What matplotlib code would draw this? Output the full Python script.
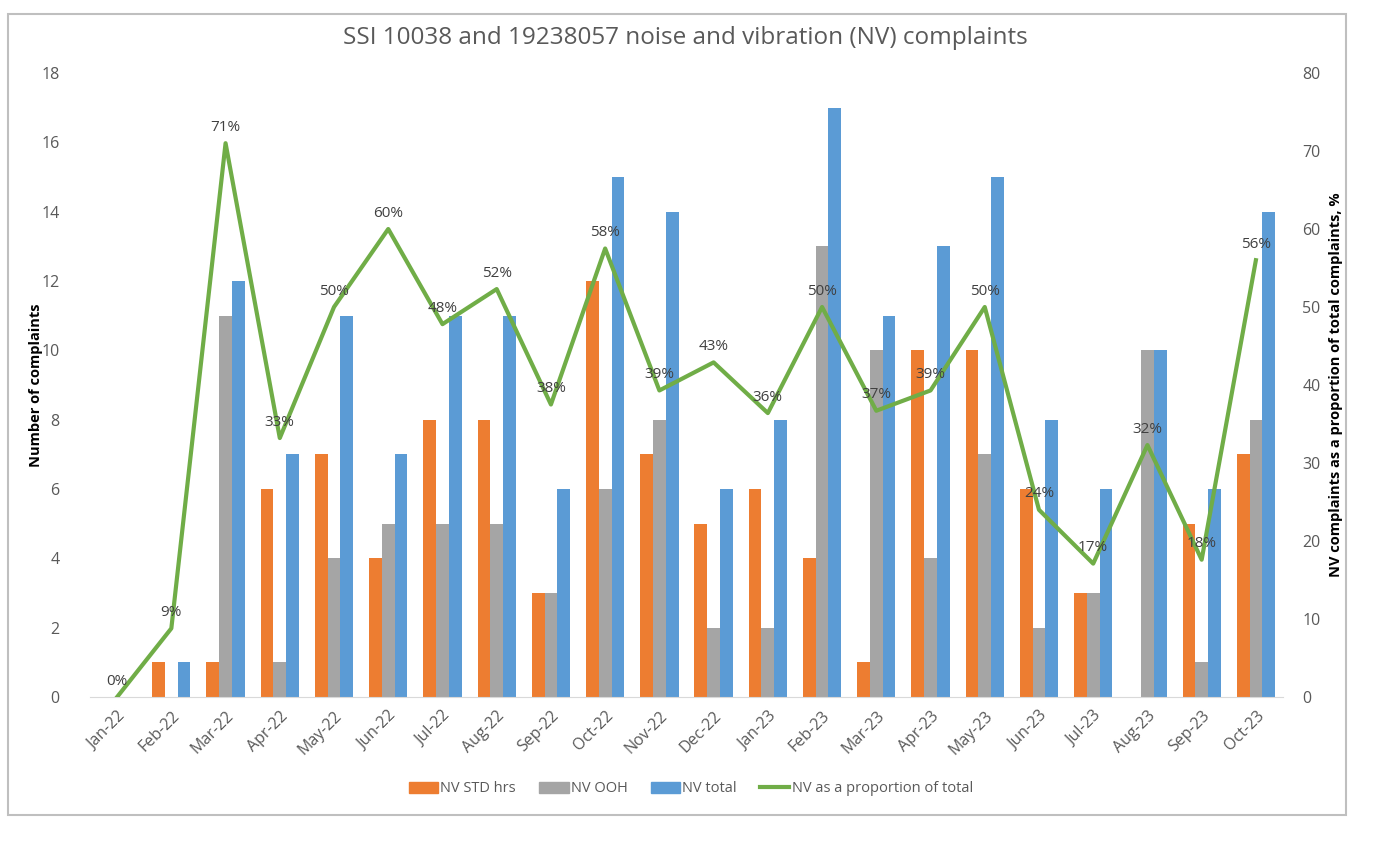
import matplotlib
matplotlib.use("Agg")
import matplotlib.pyplot as plt
import numpy as np
from matplotlib.patches import Rectangle
from matplotlib.lines import Line2D

months = ["Jan-22", "Feb-22", "Mar-22", "Apr-22", "May-22", "Jun-22", "Jul-22", "Aug-22",
          "Sep-22", "Oct-22", "Nov-22", "Dec-22", "Jan-23", "Feb-23", "Mar-23", "Apr-23",
          "May-23", "Jun-23", "Jul-23", "Aug-23", "Sep-23", "Oct-23"]
nv_std = [0, 1, 1, 6, 7, 4, 8, 8, 3, 12, 7, 5, 6, 4, 1, 10, 10, 6, 3, 0, 5, 7]
nv_ooh = [0, 0, 11, 1, 4, 5, 5, 5, 3, 6, 8, 2, 2, 13, 10, 4, 7, 2, 3, 10, 1, 8]
nv_total = [0, 1, 12, 7, 11, 7, 11, 11, 6, 15, 14, 6, 8, 17, 11, 13, 15, 8, 6, 10, 6, 14]
nv_prop = [0, 8.8, 71, 33.2, 50, 60, 47.8, 52.3, 37.5, 57.5, 39.3, 42.9, 36.4, 50, 36.7,
           39.3, 50, 24, 17.1, 32.3, 17.6, 56]

C_OR = "#ED7D31"
C_GR = "#A5A5A5"
C_BL = "#5B9BD5"
C_GN = "#70AD47"
TXT = "#595959"
FONT = "Open Sans"
plt.rcParams['font.family'] = [FONT, 'DejaVu Sans']

fig = plt.figure(figsize=(13.78, 8.68), dpi=100)
# outer frame
fig.patches.append(Rectangle((8/1378, 1-815/868), (1346-8)/1378, (815-14)/868,
                             transform=fig.transFigure, fill=False, edgecolor="#BFBFBF", lw=1.5))

ax = fig.add_axes([90/1378, 1-697/868, (1283-90)/1378, (697-73)/868])
x = np.arange(len(months))
w = 0.235
ax.bar(x - w, nv_std, w, color=C_OR, label="NV STD hrs", zorder=2)
ax.bar(x, nv_ooh, w, color=C_GR, label="NV OOH", zorder=2)
ax.bar(x + w, nv_total, w, color=C_BL, label="NV total", zorder=2)
ax.set_xlim(-0.5, len(months) - 0.5)
ax.set_ylim(0, 18)
ax.set_yticks(range(0, 19, 2))
ax.set_xticks(x)
ax.set_xticklabels(months, rotation=45, ha="right", rotation_mode="anchor")
for s in ["top", "right", "left"]:
    ax.spines[s].set_visible(False)
ax.spines["bottom"].set_color("#D9D9D9")
ax.tick_params(axis="y", length=0, labelsize=11.5, colors=TXT, pad=22)
ax.tick_params(axis="x", length=0, labelsize=11.5, colors=TXT, pad=8)
fig.text(36/1378, 1-385/868, "Number of complaints", rotation=90, ha="center", va="center",
         fontsize=10.5, fontweight="bold", color="black")

ax2 = ax.twinx()
ax2.plot(x, nv_prop, color=C_GN, lw=3, zorder=3, label="NV as a proportion of total")
ax2.set_ylim(0, 80)
ax2.set_yticks(range(0, 81, 10))
for s in ["top", "right", "left", "bottom"]:
    ax2.spines[s].set_visible(False)
ax2.tick_params(axis="y", length=0, labelsize=11.5, colors=TXT, pad=14)
fig.text(1336/1378, 1-385/868, "NV complaints as a proportion of total complaints, %",
         rotation=90, ha="center", va="center", fontsize=10.5, fontweight="bold", color="black")
for xi, v in zip(x, nv_prop):
    ax2.annotate(f"{v:.0f}%", (xi, v), xytext=(0, 6), textcoords="offset points",
                 ha="center", va="bottom", fontsize=11, color="#404040", zorder=4)

fig.text(0.4975, 1-38/868, "SSI 10038 and 19238057 noise and vibration (NV) complaints",
         ha="center", va="center", fontsize=17.5, color=TXT)

handles = [Rectangle((0, 0), 1, 1, color=C_OR), Rectangle((0, 0), 1, 1, color=C_GR),
           Rectangle((0, 0), 1, 1, color=C_BL), Line2D([], [], color=C_GN, lw=3)]
labels = ["NV STD hrs", "NV OOH", "NV total", "NV as a proportion of total"]
fig.legend(handles, labels, loc="center", bbox_to_anchor=(691/1378, 1-789/868), ncol=4,
           frameon=False, fontsize=10.5, labelcolor=TXT, handlelength=2.0, handleheight=0.8,
           columnspacing=1.6, handletextpad=0.15)

fig.savefig("out.png", dpi=100)
